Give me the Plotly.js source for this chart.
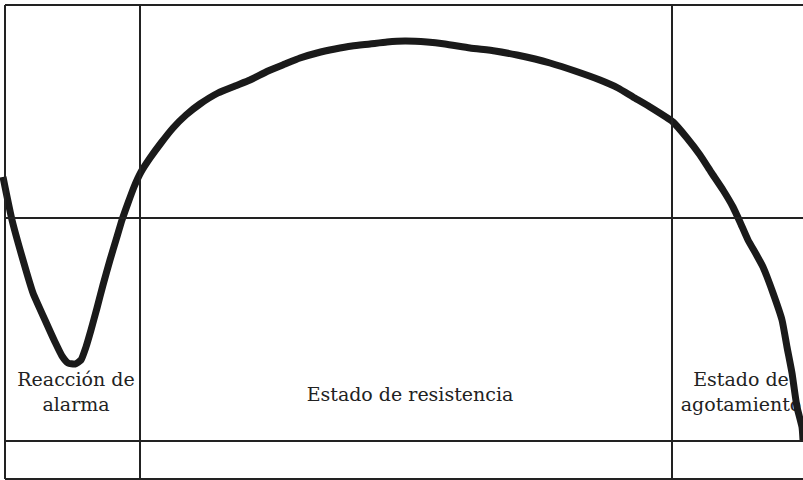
<!DOCTYPE html>
<html>
<head>
<meta charset="utf-8">
<script src="https://cdn.plot.ly/plotly-3.0.1.min.js"></script>
<style>
  html, body { margin: 0; padding: 0; background: #fff; }
  #chart { width: 803px; height: 480px; }
</style>
</head>
<body>
<div id="chart"></div>
<script>
// Curva de adaptación (coordenadas, eje y invertido)
const CURVE_X = [3, 12, 23, 33, 45, 55, 62, 68, 75, 81, 86, 91, 97, 103, 110, 116, 122, 128, 134, 141, 150, 161, 173, 186, 200, 218, 235, 250, 268, 285, 300, 317, 335, 352, 370, 387, 405, 427, 445, 470, 495, 517, 535, 550, 575, 600, 618, 633, 650, 673, 687, 700, 711, 723, 733, 740, 748, 756, 763, 773, 782, 787, 792, 794, 797, 802, 803];
const CURVE_Y = [177, 220, 260, 293, 320, 342, 356, 363, 364, 360, 347, 330, 308, 285, 260, 240, 220, 203, 187, 172, 158, 143, 128, 115, 104, 93, 86, 80, 71, 64, 58, 53, 49, 46, 44, 42, 41, 42, 44, 48, 51, 55, 59, 63, 71, 80, 88, 97, 107, 122, 138, 155, 172, 190, 207, 222, 240, 254, 267, 293, 320, 347, 373, 387, 407, 427, 440];

// Límites de las fases
const PHASE_X = [5, 140, 672];
const ROW_Y = [5, 218, 441, 479];

// Etiquetas de las fases
const LABELS = ["Reacción de<br>alarma", "Estado de resistencia", "Estado de<br>agotamiento"];
const LABEL_X = [76, 410, 741];
const LABEL_Y = [394, 396, 394];

const shapes = [];
PHASE_X.forEach(function (x) {
     shapes.push({ type: "line", xref: "x", yref: "y", x0: x, x1: x, y0: ROW_Y[0], y1: ROW_Y[3],
                   line: { color: "#222", width: 2 } });
});
ROW_Y.forEach(function (y) {
     shapes.push({ type: "line", xref: "x", yref: "y", x0: PHASE_X[0], x1: 803, y0: y, y1: y,
                   line: { color: "#222", width: 2 } });
});

const DATA = [
     {
          x: LABEL_X,
          y: LABEL_Y,
          text: LABELS,
          mode: "text",
          type: "scatter",
          textposition: "middle center",
          textfont: { family: "DejaVu Serif, serif", size: 19, color: "#222" },
          hoverinfo: "skip"
     },
     {
          x: CURVE_X,
          y: CURVE_Y,
          mode: "lines",
          type: "scatter",
          line: { color: "#1a1a1a", width: 7, shape: "spline", smoothing: 0.5 },
          hoverinfo: "skip"
     }
];

const LAYOUT = {
     width: 803,
     height: 480,
     margin: { l: 0, r: 0, t: 0, b: 0 },
     paper_bgcolor: "#fff",
     plot_bgcolor: "#fff",
     showlegend: false,
     xaxis: { range: [0, 803], visible: false, fixedrange: true },
     yaxis: { range: [480, 0], visible: false, fixedrange: true },
     shapes: shapes
};

Plotly.newPlot("chart", DATA, LAYOUT, { displayModeBar: false, staticPlot: true });
</script>
</body>
</html>
